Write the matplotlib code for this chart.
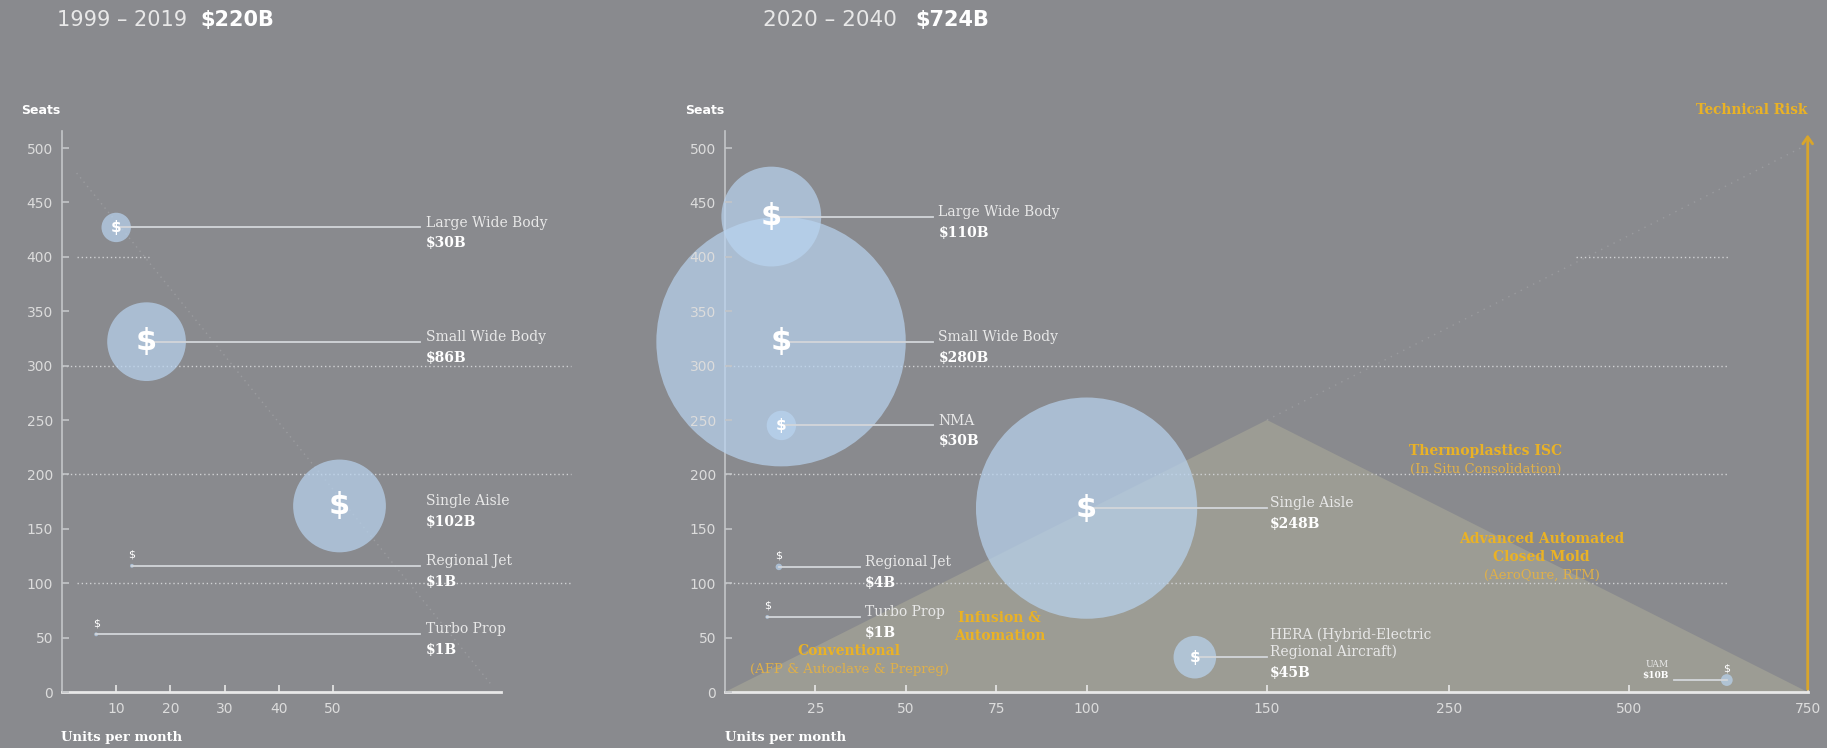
import numpy as np
import matplotlib
matplotlib.use('Agg')
import matplotlib.pyplot as plt

# --- 1999-2019 market ---
left_names = ['Large Wide Body', 'Small Wide Body', 'Single Aisle', 'Regional Jet', 'Turbo Prop']
left_units = [10, 15.6, 51.2, 12.9, 6.3]
left_seats = [427, 322, 171, 116, 53]
left_value = [30, 86, 102, 1, 1]
left_total = '$220B'

# --- 2020-2040 market ---
right_names = ['Large Wide Body', 'Small Wide Body', 'NMA', 'Single Aisle', 'Regional Jet',
               'Turbo Prop', 'HERA (Hybrid-Electric\nRegional Aircraft)', 'UAM']
right_units = [12.8, 15.5, 15.6, 100, 14.9, 11.7, 130, 637]
right_seats = [437, 322, 245, 169, 115, 69, 32, 11]
right_value = [110, 280, 30, 248, 4, 1, 45, 10]
right_total = '$724B'

seat_ticks = [0, 50, 100, 150, 200, 250, 300, 350, 400, 450, 500]
left_xticks = [10, 20, 30, 40, 50]
right_xticks = [25, 50, 75, 100, 150, 250, 500, 750]

# technical risk triangle (units, seats)
risk_units = [0, 150, 750]
risk_seats = [0, 250, 0]

# process labels
process_labels = [
    ('Conventional', 34.3, 38, 'bold'),
    ('(AFP & Autoclave & Prepreg)', 34.3, 21, 'normal'),
    ('Infusion &', 75.9, 68.3, 'bold'),
    ('Automation', 75.9, 51.5, 'bold'),
    ('Thermoplastics ISC', 301.5, 221.8, 'bold'),
    ('(In Situ Consolidation)', 301.5, 205, 'normal'),
    ('Advanced Automated', 378.7, 140.6, 'bold'),
    ('Closed Mold', 378.7, 123.8, 'bold'),
    ('(AeroQure, RTM)', 378.7, 106.9, 'normal'),
]

# layout: where leader lines end / labels start (data x)
left_line_end = [66, 66, None, 66, 66]
left_label_x = [67.1] * 5
right_line_end = [57.5, 57.5, 57.5, 150, 37.3, 37.3, 150, 563]
right_label_x = [59, 59, 59, 151.7, 38.7, 38.7, 151.7, 556]

# colours
BG = '#898a8e'
BUBBLE = '#b9d4f0'
TRI = '#9c9c94'
GRID = '#cfd0d2'
LEADER = '#d3d6da'
TICK_C = '#dcdcdc'
YAXIS_C = '#c3c5c8'
XAXIS_C = '#e8e8e8'
TEXT_C = '#e8e8e8'
YELLOW = '#eab225'
YELLOW_LIGHT = '#dfb04a'
SERIF = 'DejaVu Serif'

plt.rcParams['font.family'] = 'DejaVu Sans'

W, H = 1827, 748
fig = plt.figure(figsize=(W / 100, H / 100), dpi=100, facecolor=BG)
ax1 = fig.add_axes([62 / W, 56 / H, 509.5 / W, 561.4 / H])
ax2 = fig.add_axes([725 / W, 56 / H, 1082.7 / W, 561.4 / H])

# piecewise x scale on the right chart (0-100 stretched, then compressed)
X_KNOTS = [0, 100, 150, 250, 500, 750]
X_POS = [0, 361.6, 542, 724, 903.7, 1082.7]


def fwd(x):
    return np.interp(x, X_KNOTS, X_POS)


def inv(p):
    return np.interp(p, X_POS, X_KNOTS)


ax2.set_xscale('function', functions=(fwd, inv))
ax1.set_xlim(0, 94)
ax2.set_xlim(0, 750)


def style_axes(ax, xticks, xend):
    ax.set_facecolor('none')
    ax.set_ylim(0, 516)
    for s in ['top', 'right']:
        ax.spines[s].set_visible(False)
    ax.spines['left'].set_color(YAXIS_C)
    ax.spines['left'].set_linewidth(1.2)
    ax.spines['bottom'].set_color(XAXIS_C)
    ax.spines['bottom'].set_linewidth(2)
    ax.spines['bottom'].set_bounds(0, xend)
    ax.set_yticks(seat_ticks)
    ax.set_xticks(xticks)
    ax.set_xticklabels([str(t) for t in xticks])
    ax.tick_params(direction='in', length=5, width=1.2, colors=YAXIS_C,
                   labelcolor=TICK_C, labelsize=10)
    ax.tick_params(axis='x', pad=7.5, colors=XAXIS_C, labelcolor=TICK_C)
    ax.tick_params(axis='y', pad=6.5)
    ax.yaxis.set_zorder(6)


style_axes(ax1, left_xticks, 81)
style_axes(ax2, right_xticks, 750)

# dotted guide lines
kw = dict(color=GRID, lw=1, ls=(0, (1, 2)), zorder=1, clip_on=False)
ax1.hlines([100, 200, 300], [2.7, 0, 0], [94, 94, 94], **kw)
ax1.hlines(400, 2.7, 16, **kw)
ax1.plot([2.7, 79], [477, 8], color=GRID, lw=1, ls=(0, (1, 3)), alpha=0.25, zorder=1)
ax2.hlines([100, 200, 300], 0, 640, **kw)
ax2.hlines(400, 427, 640, **kw)
ax2.plot([150, 740], [250, 500], color=GRID, lw=1, ls=(0, (1, 4)), alpha=0.25, zorder=1)

# technical risk area
ax2.fill(risk_units, risk_seats, color=TRI, lw=0, zorder=0.5)


def bubble_px(v):
    return 0.88 * np.asarray(v, dtype=float) + 3


def draw_bubbles(ax, xs, ys, vals):
    d = bubble_px(vals)
    ax.scatter(xs, ys, s=(d * 0.72) ** 2, color=BUBBLE, alpha=0.7, linewidths=0,
               zorder=3, clip_on=False)
    for x, y, di in zip(xs, ys, d):
        if di > 60:
            ax.text(x, y, '$', fontsize=22, color='white', weight='bold',
                    ha='center', va='center', zorder=7)
        elif di > 15:
            ax.text(x, y, '$', fontsize=11, color='white', weight='bold',
                    ha='center', va='center', zorder=7)
        else:
            ax.annotate('$', (x, y), xytext=(0, 8), textcoords='offset points',
                        fontsize=8, color='white', ha='center', va='center', zorder=7)


def draw_labels(ax, xs, ys, names, vals, line_end, label_x):
    for x, y, name, v, le, lx in zip(xs, ys, names, vals, line_end, label_x):
        if le is not None:
            ax.plot([x, le], [y, y], color=LEADER, lw=1.3, zorder=4, clip_on=False)
        if name == 'UAM':
            ax.annotate(name, (lx, y), xytext=(0, 11.5), textcoords='offset points',
                        ha='right', va='center', fontsize=6.5, family=SERIF, color=TEXT_C)
            ax.annotate(f'${v}B', (lx, y), xytext=(0, 3), textcoords='offset points',
                        ha='right', va='center', fontsize=6.5, family=SERIF,
                        weight='bold', color='white')
            continue
        ax.annotate(name, (lx, y), xytext=(0, -1.5), textcoords='offset points',
                    ha='left', va='bottom', fontsize=10, family=SERIF, color=TEXT_C,
                    linespacing=1.25, annotation_clip=False)
        ax.annotate(f'${v}B', (lx, y), xytext=(0, -6.5), textcoords='offset points',
                    ha='left', va='top', fontsize=10, family=SERIF, weight='bold',
                    color='white', annotation_clip=False)


draw_bubbles(ax1, left_units, left_seats, left_value)
draw_labels(ax1, left_units, left_seats, left_names, left_value, left_line_end, left_label_x)
draw_bubbles(ax2, right_units, right_seats, right_value)
draw_labels(ax2, right_units, right_seats, right_names, right_value, right_line_end, right_label_x)

for txt, x, y, w in process_labels:
    ax2.text(x, y, txt, ha='center', va='center', fontsize=10 if w == 'bold' else 9.5,
             family=SERIF, weight=w,
             color=YELLOW if w == 'bold' else YELLOW_LIGHT, zorder=5)

# technical risk arrow
ax2.annotate('', xy=(750, 515), xytext=(750, 0),
             arrowprops=dict(arrowstyle='->,head_length=0.5,head_width=0.35',
                             color='#d8a52c', lw=2), annotation_clip=False)
ax2.text(750, 535, 'Technical Risk', ha='right', va='center', fontsize=9.8, family=SERIF,
         weight='bold', color=YELLOW, clip_on=False)

# headings
fig.text(57 / W, 1 - 20 / H, '1999 – 2019', fontsize=15, color=TEXT_C, va='center')
fig.text(200 / W, 1 - 20 / H, left_total, fontsize=15, color='white', weight='bold', va='center')
fig.text(763 / W, 1 - 20 / H, '2020 – 2040', fontsize=15.5, color=TEXT_C, va='center')
fig.text(915 / W, 1 - 20 / H, right_total, fontsize=15, color='white', weight='bold', va='center')

for x in [41, 705]:
    fig.text(x / W, 1 - 110 / H, 'Seats', fontsize=9, color='white', weight='bold',
             ha='center', va='center')
for x in [61, 725]:
    fig.text(x / W, 1 - 738 / H, 'Units per month', fontsize=9.5, color='white',
             weight='bold', family=SERIF, ha='left', va='center')

fig.savefig('out.png', dpi=100, facecolor=BG)
